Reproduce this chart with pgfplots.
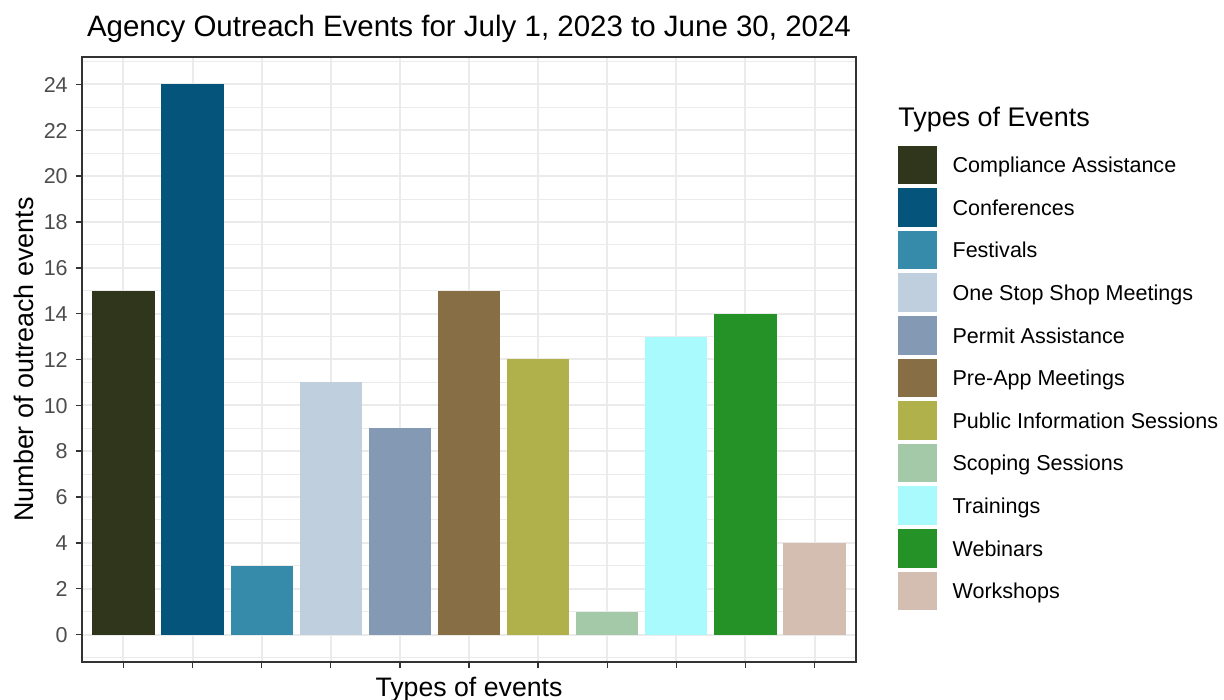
\documentclass[border=0pt]{standalone}
\usepackage{pgfplots}
\pgfplotsset{compat=1.18}
\usepackage{fontspec}
\setmainfont{Liberation Sans}
\definecolor{c1}{HTML}{30361C}
\definecolor{c2}{HTML}{04547C}
\definecolor{c3}{HTML}{368AAA}
\definecolor{c4}{HTML}{BFCFDE}
\definecolor{c5}{HTML}{8499B4}
\definecolor{c6}{HTML}{886E44}
\definecolor{c7}{HTML}{B1B14C}
\definecolor{c8}{HTML}{A3C9A8}
\definecolor{c9}{HTML}{A8FAFC}
\definecolor{c10}{HTML}{249226}
\definecolor{c11}{HTML}{D4BDB1}
\definecolor{gridc}{HTML}{EBEBEB}
\definecolor{axc}{HTML}{333333}
\definecolor{tickc}{HTML}{4D4D4D}
\pgfplotsset{
  mybar/.style={ybar, bar width=0.9, bar shift=0pt, draw=none,
    legend image code/.code={\fill[##1] (0bp,-9.65bp) rectangle (19.3bp,9.65bp);}},
}
\begin{document}
\begin{tikzpicture}
\begin{axis}[
  at={(0,0)}, anchor=south west,
  scale only axis, width=387bp, height=302.5bp,
  xmin=0.4, xmax=11.6, ymin=-1.2, ymax=25.2,
  xtick={1,2,3,4,5,6,7,8,9,10,11}, xticklabels={},
  ytick={0,2,...,24}, minor ytick={-1,1,...,25},
  grid=both,
  major grid style={color=gridc, line width=1bp},
  minor grid style={color=gridc, line width=0.5bp},
  tick align=outside, tick pos=left,
  major tick length=3.2bp, minor tick length=0pt,
  every tick/.style={color=axc, line width=0.7bp},
  axis line style={color=axc, line width=0.6bp},
  /pgf/number format/assume math mode=true,
  yticklabel style={font=\fontsize{10.8}{13}\selectfont, color=tickc, inner sep=0pt, text height=7.7bp, text depth=0pt, anchor=east},
  yticklabel shift=3.75bp,
  xlabel={Types of events},
  xlabel style={font=\fontsize{13.4}{16}\selectfont, at={(axis description cs:0.5,-0.0562)}, anchor=base, inner sep=0pt},
  ylabel={Number of outreach events},
  ylabel style={font=\fontsize{13.5}{16}\selectfont, at={(axis description cs:-0.0627,0.5)}, anchor=base, inner sep=0pt},
  title={Agency Outreach Events for July 1, 2023 to June 30, 2024},
  title style={font=\fontsize{14.8}{18}\selectfont, at={(axis description cs:0.5,1.0347)}, anchor=base, inner sep=0pt, yshift=-6pt},
  legend style={at={(axis description cs:1.05426,0.8534)}, anchor=north west,
    font=\fontsize{10.8}{13}\selectfont, draw=none, fill=none,
    inner sep=0pt, outer sep=0pt, row sep=2bp, column sep=8bp,
    nodes={inner sep=0pt, text height=7.7bp, text depth=0pt, anchor=west},
    cells={anchor=west}},
  legend cell align=left,
]
\addplot[mybar, fill=c1] coordinates {(1,15)};
\addlegendentry{Compliance Assistance}
\addplot[mybar, fill=c2] coordinates {(2,24)};
\addlegendentry{Conferences}
\addplot[mybar, fill=c3] coordinates {(3,3)};
\addlegendentry{Festivals}
\addplot[mybar, fill=c4] coordinates {(4,11)};
\addlegendentry{One Stop Shop Meetings}
\addplot[mybar, fill=c5] coordinates {(5,9)};
\addlegendentry{Permit Assistance}
\addplot[mybar, fill=c6] coordinates {(6,15)};
\addlegendentry{Pre-App Meetings}
\addplot[mybar, fill=c7] coordinates {(7,12)};
\addlegendentry{Public Information Sessions}
\addplot[mybar, fill=c8] coordinates {(8,1)};
\addlegendentry{Scoping Sessions}
\addplot[mybar, fill=c9] coordinates {(9,13)};
\addlegendentry{Trainings}
\addplot[mybar, fill=c10] coordinates {(10,14)};
\addlegendentry{Webinars}
\addplot[mybar, fill=c11] coordinates {(11,4)};
\addlegendentry{Workshops}
\end{axis}
\node[anchor=base west, inner sep=0pt, font=\fontsize{13.5}{16}\selectfont] at (408bp,267.5bp) {Types of Events};
\pgfresetboundingbox
\useasboundingbox (-41bp,-19bp) rectangle (571bp,331bp);
\end{tikzpicture}
\end{document}
